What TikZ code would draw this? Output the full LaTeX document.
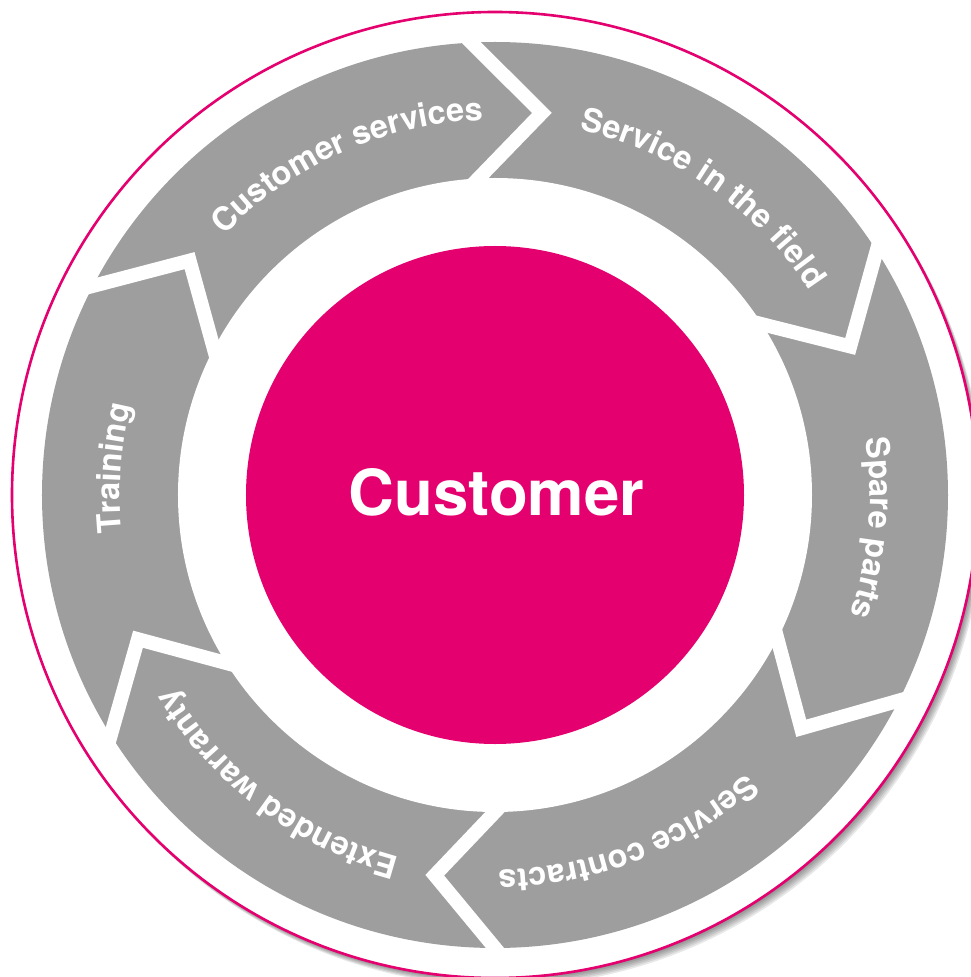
\documentclass[tikz,border=0pt]{standalone}
\usepackage{fontspec}
\setmainfont{TeX Gyre Heros}
\usetikzlibrary{decorations.text,calc}
\definecolor{ringgray}{RGB}{157,158,157}
\definecolor{brandpink}{RGB}{228,0,111}
\newcommand{\seglabelfont}{\fontsize{32.5}{38}\selectfont\bfseries}
\begin{document}
\begin{tikzpicture}[x=1pt,y=1pt,
  gapline/.style={white, line width=14pt, line join=miter, line cap=butt},
  arclabel/.style={decorate, decoration={text along path, text={|\seglabelfont|#1}, text align=center, text color=white}},
  shadowlayer/.style={fill=black, opacity=0.09}]
\useasboundingbox (-495pt,-482pt) rectangle (476pt,495pt);
% shadow of the outer disk
\foreach \i in {1,...,6} {
  \fill[shadowlayer] (1.1*\i pt,-1.4*\i pt) circle (483pt);
}
% outer disk
\filldraw[fill=white, draw=brandpink, line width=2.6pt] (0,0) circle (483pt);
% gray ring
\fill[ringgray] (0,0) circle (453pt);
\fill[white] (0,0) circle (317pt);
% white chevron gaps between segments: {corner angle/tip angle}
\foreach \c/\t [count=\k] in {93/83, 32.6/22.7, -27/-37.3, -90/-99, -148/-158, 152.5/142.5} {
  \coordinate (tip\k) at (\t:385pt);
  \coordinate (out\k) at (\c:453pt);
  \coordinate (in\k) at (\c:317pt);
  \draw[gapline] ($(tip\k)!1.3!(out\k)$) -- (tip\k) -- ($(tip\k)!1.3!(in\k)$);
}
% centre
\fill[brandpink] (0,0) circle (249pt);
\node[font=\fontsize{63.5}{70}\selectfont\bfseries, text=white] (customer) at (1.5pt,3pt) {Customer};
% segment labels along arcs (clockwise)
\path[arclabel={Customer services}] (154:375pt) arc[start angle=154, end angle=74, radius=375pt];
\path[arclabel={Service in the field}] (95:375pt) arc[start angle=95, end angle=15, radius=375pt];
\path[arclabel={Spare parts}] (35:375pt) arc[start angle=35, end angle=-45, radius=375pt];
\path[arclabel={Service contracts}] (-28.7:375pt) arc[start angle=-28.7, end angle=-108.7, radius=375pt];
\path[arclabel={Extended warranty}] (-87:375pt) arc[start angle=-87, end angle=-167, radius=375pt];
\path[arclabel={Training}] (216:375pt) arc[start angle=216, end angle=136, radius=375pt];
\end{tikzpicture}
\end{document}
